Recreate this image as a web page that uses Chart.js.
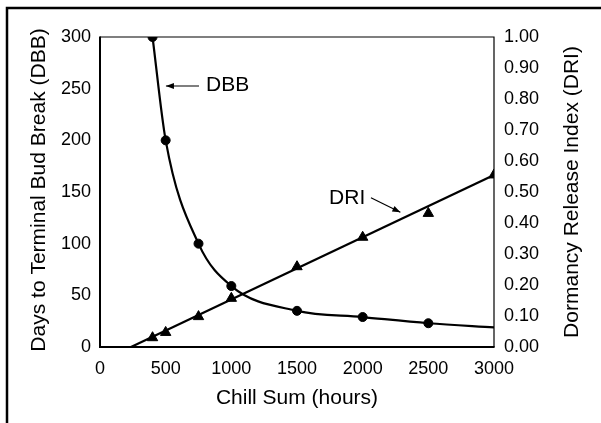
<!DOCTYPE html>
<html>
<head>
<meta charset="utf-8">
<script src="https://cdn.jsdelivr.net/npm/chart.js@4"></script>
<style>
  body { margin: 0; background: #fff; }
  #wrap { width: 601px; height: 423px; }
</style>
</head>
<body>
<div id="wrap"><canvas id="chillChart" width="601" height="423"></canvas></div>
<script>
// values
const chillHours = [400, 500, 750, 1000, 1500, 2000, 2500];
const dbbDays = [300, 200, 100, 59, 35, 29, 23];
const dbbCurveHours = [400, 500, 750, 1000, 1500, 2000, 2500, 3000];
const dbbCurveDays = [300, 200, 100, 59, 35, 29, 23, 19];

const driHours = [400, 500, 750, 1000, 1500, 2000, 2500, 3000];
const driIndex = [0.03, 0.047, 0.098, 0.157, 0.259, 0.354, 0.431, 0.555];
const driLineHours = [236, 3000];
const driLineIndex = [0, 0.555];

const xTicks = [0, 500, 1000, 1500, 2000, 2500, 3000];
const font = "'Liberation Sans', Arial, Helvetica, sans-serif";

const toXY = (xs, ys) => xs.map((x, i) => ({ x: x, y: ys[i] }));

// frame, box, axis titles and the two arrow labels
const decor = {
  id: 'decor',
  afterDraw(chart) {
    const c = chart.ctx;
    const a = chart.chartArea;
    const sx = chart.scales.x, sy = chart.scales.y, s2 = chart.scales.y2;
    c.save();
    c.strokeStyle = '#000';
    c.fillStyle = '#000';

    // outer frame (left + top only visible)
    c.lineWidth = 2.5;
    c.beginPath();
    c.moveTo(7, 423); c.lineTo(7, 8); c.lineTo(601, 8);
    c.stroke();

    // plot box
    c.lineWidth = 1.2;
    c.beginPath();
    c.moveTo(a.left, a.top); c.lineTo(a.right, a.top); c.lineTo(a.right, a.bottom);
    c.stroke();
    c.lineWidth = 2;
    c.beginPath();
    c.moveTo(a.left, a.top - 0.6); c.lineTo(a.left, a.bottom); c.lineTo(a.right + 0.6, a.bottom);
    c.stroke();

    // axis titles
    c.font = '21px ' + font;
    c.textAlign = 'center';
    c.textBaseline = 'middle';
    c.fillText('Chill Sum (hours)', (a.left + a.right) / 2, 398);
    c.save();
    c.translate(39, (a.top + a.bottom) / 2 - 2);
    c.rotate(-Math.PI / 2);
    c.fillText('Days to Terminal Bud Break (DBB)', 0, 0);
    c.restore();
    c.save();
    c.translate(572, (a.top + a.bottom) / 2);
    c.rotate(-Math.PI / 2);
    c.fillText('Dormancy Release Index (DRI)', 0, 0);
    c.restore();

    // labels with arrows
    const arrow = (x1, y1, x2, y2) => {
      c.lineWidth = 1.2;
      c.beginPath(); c.moveTo(x1, y1); c.lineTo(x2, y2); c.stroke();
      const ang = Math.atan2(y2 - y1, x2 - x1);
      const L = 8, W = 3;
      c.beginPath();
      c.moveTo(x2, y2);
      c.lineTo(x2 - L * Math.cos(ang) + W * Math.sin(ang), y2 - L * Math.sin(ang) - W * Math.cos(ang));
      c.lineTo(x2 - L * Math.cos(ang) - W * Math.sin(ang), y2 - L * Math.sin(ang) + W * Math.cos(ang));
      c.closePath(); c.fill();
    };
    arrow(sx.getPixelForValue(754), sy.getPixelForValue(252.6),
          sx.getPixelForValue(502), sy.getPixelForValue(252.6));
    c.textAlign = 'left';
    c.fillText('DBB', sx.getPixelForValue(807), sy.getPixelForValue(253));

    arrow(sx.getPixelForValue(2063), s2.getPixelForValue(0.4816),
          sx.getPixelForValue(2287), s2.getPixelForValue(0.4345));
    c.fillText('DRI', sx.getPixelForValue(1744), s2.getPixelForValue(0.48));
    c.restore();
  }
};

new Chart(document.getElementById('chillChart'), {
  type: 'scatter',
  data: {
    datasets: [
      {
        label: 'DBB curve',
        data: toXY(dbbCurveHours, dbbCurveDays),
        showLine: true,
        borderColor: '#000',
        borderWidth: 2.2,
        cubicInterpolationMode: 'monotone',
        pointRadius: 0,
        yAxisID: 'y'
      },
      {
        label: 'DBB',
        data: toXY(chillHours, dbbDays),
        showLine: false,
        pointStyle: 'circle',
        pointRadius: 4.5,
        backgroundColor: '#000',
        borderColor: '#000',
        yAxisID: 'y'
      },
      {
        label: 'DRI line',
        data: toXY(driLineHours, driLineIndex),
        showLine: true,
        borderColor: '#000',
        borderWidth: 2.2,
        pointRadius: 0,
        yAxisID: 'y2'
      },
      {
        label: 'DRI',
        data: toXY(driHours, driIndex),
        showLine: false,
        pointStyle: 'triangle',
        pointRadius: 6,
        backgroundColor: '#000',
        borderColor: '#000',
        yAxisID: 'y2'
      }
    ]
  },
  options: {
    responsive: false,
    animation: false,
    layout: { padding: { top: 37, left: 0, right: 0, bottom: 0 } },
    plugins: { legend: { display: false }, tooltip: { enabled: false } },
    scales: {
      x: {
        type: 'linear',
        min: 0, max: 3000,
        afterFit: s => { s.height = 76; },
        afterBuildTicks: s => { s.ticks = xTicks.map(v => ({ value: v })); },
        grid: { display: false, drawTicks: false },
        border: { display: false },
        ticks: {
          color: '#000', font: { family: font, size: 18 }, padding: 11, maxRotation: 0,
          callback: v => String(v)
        }
      },
      y: {
        position: 'left',
        min: 0, max: 300,
        afterFit: s => { s.width = 100; },
        grid: { display: false, drawTicks: false },
        border: { display: false },
        ticks: { stepSize: 50, color: '#000', font: { family: font, size: 18 }, padding: 9 }
      },
      y2: {
        position: 'right',
        min: 0, max: 1,
        afterFit: s => { s.width = 107; },
        grid: { display: false, drawTicks: false },
        border: { display: false },
        ticks: {
          stepSize: 0.1, color: '#000', font: { family: font, size: 18 }, padding: 10,
          callback: v => v.toFixed(2)
        }
      }
    }
  },
  plugins: [decor]
});
</script>
</body>
</html>
